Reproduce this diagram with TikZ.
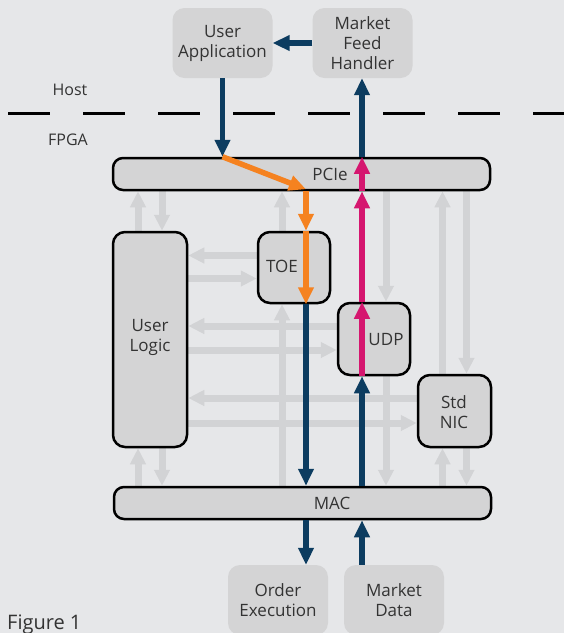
\documentclass[tikz,border=0pt]{standalone}
\usepackage{fontspec}
\setmainfont{Open Sans}
\usetikzlibrary{arrows.meta,calc}
\definecolor{bgc}{RGB}{230,231,233}
\definecolor{boxfill}{RGB}{212,212,213}
\definecolor{ltgray}{RGB}{210,211,213}
\definecolor{navy}{RGB}{12,60,96}
\definecolor{orng}{RGB}{245,130,32}
\definecolor{pinkc}{RGB}{213,22,111}
\definecolor{txt}{RGB}{51,51,51}
\pgfdeclarelayer{bglayer}
\pgfdeclarelayer{midlayer}
\pgfsetlayers{bglayer,midlayer,main}
\begin{document}
\begin{tikzpicture}[x=1pt,y=-1pt,
  hostbox/.style={fill=boxfill, rounded corners=12pt, minimum width=100pt, minimum height=70pt,
    align=center, font=\fontsize{17}{20}\selectfont, text=txt, inner sep=0pt},
  fpgabox/.style={fill=boxfill, draw=black, line width=2.5pt, rounded corners=12pt, inner sep=0pt},
  barbox/.style={fpgabox, rounded corners=10pt},
  lbl/.style={align=center, font=\fontsize{17}{20}\selectfont, text=txt, inner sep=0pt},
  sidelbl/.style={font=\fontsize{16}{20}\selectfont, text=txt, inner sep=0pt},
  grayarr/.style={draw=ltgray, line width=7pt, -{Triangle[length=16pt,width=15pt]}},
  navyarr/.style={draw=navy, line width=5.5pt, -{Triangle[length=17pt,width=15pt]}},
  orarr/.style={draw=orng, line width=5.5pt, -{Triangle[length=17pt,width=15pt]}},
  pinkarr/.style={draw=pinkc, line width=5.5pt, -{Triangle[length=17pt,width=15pt]}}
]
\clip (0,0) rectangle (564,633);
\useasboundingbox (0,0) rectangle (564,633);
\begin{pgfonlayer}{bglayer}
\fill[bgc] (0,0) rectangle (564,633);
\end{pgfonlayer}

% host boxes
\node[hostbox] (ua) at (222.5,43) {User\\Application};
\node[hostbox] (mfh) at (362.5,43) {Market\\Feed\\Handler};
\node[hostbox] (oe) at (278,600) {Order\\Execution};
\node[hostbox] (md) at (394,600) {Market\\Data};

% host / fpga separator
\draw[line width=3pt, dash pattern=on 42pt off 33pt] (8,113) -- (564,113);
\node[sidelbl] (host) at (70,90) {Host};
\node[sidelbl] (fpga) at (68,140) {FPGA};

% fpga boxes
\node[barbox, minimum width=377pt, minimum height=32pt] (pcie) at (301.5,174) {};
\node[barbox, minimum width=377pt, minimum height=32pt] (mac) at (302.5,503) {};
\node[fpgabox, minimum width=74pt, minimum height=215pt] (ul) at (150,339.5) {};
\node[fpgabox, minimum width=72pt, minimum height=71pt] (toe) at (294,267.5) {};
\node[fpgabox, minimum width=72pt, minimum height=72pt] (udp) at (374,339) {};
\node[fpgabox, minimum width=73pt, minimum height=72pt] (nic) at (454.5,411) {};

% gray data paths
\begin{pgfonlayer}{midlayer}
\draw[grayarr] ([xshift=-12pt]ul.north) -- ([xshift=-12pt]ul.north |- pcie.south);
\draw[grayarr] ([xshift=12pt]ul.north |- pcie.south) -- ([xshift=12pt]ul.north);
\draw[grayarr] ([xshift=-12pt]toe.north) -- ([xshift=-12pt]toe.north |- pcie.south);
\draw[grayarr] ([xshift=12pt]udp.north |- pcie.south) -- ([xshift=12pt]udp.north);
\draw[grayarr] ([xshift=-12pt]nic.north) -- ([xshift=-12pt]nic.north |- pcie.south);
\draw[grayarr] ([xshift=12pt]nic.north |- pcie.south) -- ([xshift=12pt]nic.north);
\draw[grayarr] ([xshift=-12pt]ul.south |- mac.north) -- ([xshift=-12pt]ul.south);
\draw[grayarr] ([xshift=12pt]ul.south) -- ([xshift=12pt]ul.south |- mac.north);
\draw[grayarr] ([xshift=-12pt]toe.south |- mac.north) -- ([xshift=-12pt]toe.south);
\draw[grayarr] ([xshift=12pt]udp.south) -- ([xshift=12pt]udp.south |- mac.north);
\draw[grayarr] ([xshift=-12pt]nic.south |- mac.north) -- ([xshift=-12pt]nic.south);
\draw[grayarr] ([xshift=12pt]nic.south) -- ([xshift=12pt]nic.south |- mac.north);
\draw[grayarr] ([yshift=12pt]toe.west) -- ([yshift=12pt]toe.west -| ul.east);
\draw[grayarr] ([yshift=-11pt]toe.west -| ul.east) -- ([yshift=-11pt]toe.west);
\draw[grayarr] ([yshift=13pt]udp.west) -- ([yshift=13pt]udp.west -| ul.east);
\draw[grayarr] ([yshift=-11pt]udp.west -| ul.east) -- ([yshift=-11pt]udp.west);
\draw[grayarr] ([yshift=13pt]nic.west) -- ([yshift=13pt]nic.west -| ul.east);
\draw[grayarr] ([yshift=-12pt]nic.west -| ul.east) -- ([yshift=-12pt]nic.west);
\end{pgfonlayer}

% order path
\coordinate (tx) at ([xshift=12pt]toe.north);
\draw[navyarr] (ua.south) -- (ua.south |- pcie.north);
\draw[orarr] (ua.south |- pcie.north) -- ([yshift=2pt]tx |- pcie.south);
\draw[orarr] (tx |- pcie.south) -- (tx);
\draw[orarr] (tx) -- (tx |- toe.south);
\draw[navyarr] (tx |- toe.south) -- (tx |- mac.north);
\draw[navyarr] (tx |- mac.south) -- (tx |- oe.north);

% market data path
\coordinate (px) at ([xshift=-12pt]udp.south);
\draw[navyarr] (md.north -| px) -- (mac.south -| px);
\draw[navyarr] (mac.north -| px) -- (udp.south -| px);
\draw[pinkarr] (udp.south -| px) -- (udp.north -| px);
\draw[pinkarr] (udp.north -| px) -- (pcie.south -| px);
\draw[pinkarr] (pcie.south -| px) -- (pcie.north -| px);
\draw[navyarr] (pcie.north -| px) -- (mfh.south -| px);
\draw[navyarr] (mfh.west) -- (ua.east);

% labels
\node[lbl] (pcielbl) at (330,174) {PCIe};
\node[lbl] (maclbl) at (332,503) {MAC};
\node[lbl] (ullbl) at (150,337) {User\\Logic};
\node[lbl] (toelbl) at (282,266) {TOE};
\node[lbl] (udplbl) at (386,340) {UDP};
\node[lbl] (niclbl) at (454,412) {Std\\NIC};
\node[anchor=base west, font=\fontsize{20}{24}\selectfont, text=txt, inner sep=0pt] (fig) at (7,629) {Figure 1};
\end{tikzpicture}
\end{document}
